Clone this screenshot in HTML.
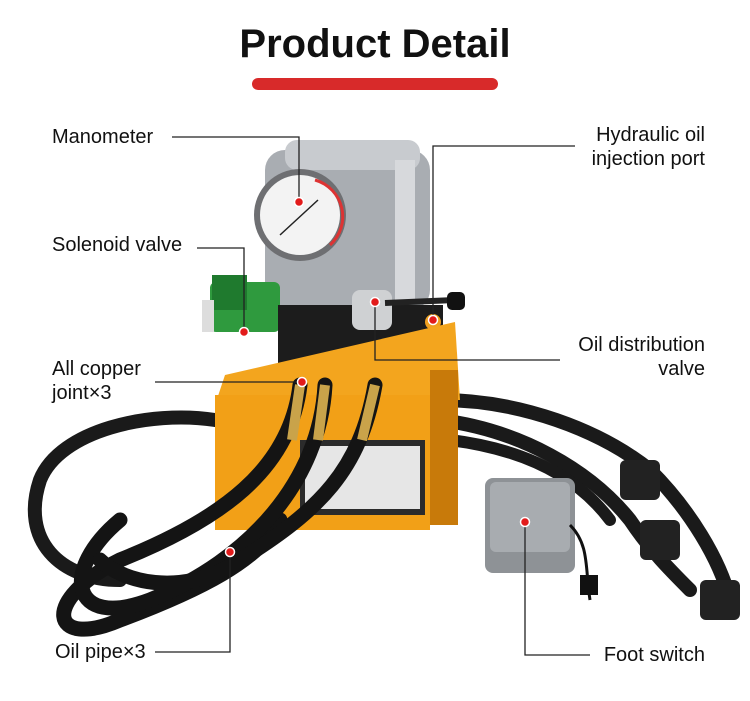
<!DOCTYPE html>
<html><head><style>
body{margin:0;background:#fff;width:750px;height:701px;overflow:hidden;position:relative;font-family:"Liberation Sans",sans-serif}
.t{position:absolute;font-size:20px;color:#111;line-height:24px}
.r{text-align:right}
</style></head><body>
<div style="position:absolute;left:0;width:750px;top:22px;text-align:center;font-size:40px;font-weight:bold;color:#111">Product Detail</div>
<div style="position:absolute;left:252px;top:78px;width:246px;height:12px;border-radius:6px;background:#d82a2a"></div>

<svg width="750" height="701" style="position:absolute;left:0;top:0">
<!-- hoses back right -->
<g fill="none" stroke="#1a1a1a" stroke-linecap="round">
<path d="M440 400 C520 400 600 430 650 470 C690 510 720 560 730 600" stroke-width="14"/>
<path d="M440 420 C520 430 590 470 630 520 C650 550 670 570 690 590" stroke-width="14"/>
<path d="M450 440 C530 450 580 480 610 520" stroke-width="12"/>
<path d="M215 420 C150 410 60 430 40 480 C20 540 60 580 120 580" stroke-width="14"/>
</g>
<!-- motor -->
<rect x="265" y="150" width="165" height="160" rx="20" fill="#a9adb2"/>
<rect x="285" y="140" width="135" height="30" rx="12" fill="#c8cbcf"/>
<rect x="395" y="160" width="20" height="140" fill="#d7d9dc"/>
<!-- gauge -->
<circle cx="300" cy="215" r="46" fill="#6e6f72"/>
<circle cx="300" cy="215" r="40" fill="#f3f3f3"/>
<path d="M315 180 A38 38 0 0 1 330 245" fill="none" stroke="#d33" stroke-width="3"/>
<line x1="280" y1="235" x2="318" y2="200" stroke="#222" stroke-width="1.5"/>
<!-- green solenoid -->
<rect x="210" y="282" width="70" height="50" rx="6" fill="#2f9a3e"/>
<rect x="212" y="275" width="35" height="35" fill="#1f7a2e"/>
<rect x="202" y="300" width="12" height="32" fill="#ddd"/>
<!-- black valve block -->
<rect x="278" y="305" width="165" height="65" fill="#1c1c1c"/>
<rect x="352" y="290" width="40" height="40" rx="8" fill="#cfd1d3"/>
<line x1="385" y1="303" x2="455" y2="300" stroke="#222" stroke-width="6"/>
<rect x="447" y="292" width="18" height="18" rx="5" fill="#111"/>
<circle cx="433" cy="322" r="8" fill="#f0a020"/>
<!-- orange box -->
<polygon points="225,375 455,322 460,400 215,405" fill="#f3a51e"/>
<rect x="215" y="395" width="215" height="135" fill="#f2a017"/>
<rect x="430" y="370" width="28" height="155" fill="#c87a0a"/>
<rect x="300" y="440" width="125" height="75" fill="#2b2b2b"/>
<rect x="305" y="446" width="115" height="63" fill="#e6e6e6"/>
<!-- front hoses -->
<g fill="none" stroke="#141414" stroke-linecap="round" stroke-width="15">
<path d="M300 385 C290 470 220 520 120 560 C40 600 50 650 120 620 C200 590 260 560 280 520"/>
<path d="M325 385 C320 480 250 560 150 600 C70 630 60 570 120 520"/>
<path d="M375 385 C360 470 320 510 240 560 C180 600 120 580 100 560"/>
</g>
<g stroke="#c9a34a" stroke-width="10" fill="none">
<path d="M300 385 L292 440"/><path d="M325 385 L318 440"/><path d="M375 385 L362 440"/>
</g>
<!-- foot switch -->
<rect x="485" y="478" width="90" height="95" rx="8" fill="#8e9296"/>
<rect x="490" y="482" width="80" height="70" rx="6" fill="#a8acb0"/>
<path d="M570 525 C590 545 585 570 590 600" stroke="#111" stroke-width="3" fill="none"/>
<rect x="580" y="575" width="18" height="20" fill="#111"/>
<g fill="#222"><rect x="620" y="460" width="40" height="40" rx="6"/><rect x="640" y="520" width="40" height="40" rx="6"/><rect x="700" y="580" width="40" height="40" rx="6"/></g>

<!-- callout lines -->
<g stroke="#222" stroke-width="1.3" fill="none">
<path d="M172 137 H299 V202"/>
<path d="M197 248 H244 V332"/>
<path d="M155 382 H302"/>
<path d="M155 652 H230 V552"/>
<path d="M575 146 H433 V320"/>
<path d="M560 360 H375 V302"/>
<path d="M590 655 H525 V522"/>
</g>
<g fill="#e21b1b" stroke="#fff" stroke-width="1.5">
<circle cx="299" cy="202" r="4.5"/><circle cx="244" cy="332" r="4.5"/><circle cx="302" cy="382" r="4.5"/>
<circle cx="230" cy="552" r="4.5"/><circle cx="433" cy="320" r="4.5"/><circle cx="375" cy="302" r="4.5"/><circle cx="525" cy="522" r="4.5"/>
</g>
</svg>

<div class="t" style="left:52px;top:125px">Manometer</div>
<div class="t" style="left:52px;top:233px">Solenoid valve</div>
<div class="t" style="left:52px;top:357px">All copper<br>joint×3</div>
<div class="t" style="left:55px;top:640px">Oil pipe×3</div>
<div class="t r" style="right:45px;top:123px">Hydraulic oil<br>injection port</div>
<div class="t r" style="right:45px;top:333px">Oil distribution<br>valve</div>
<div class="t r" style="right:45px;top:643px">Foot switch</div>
</body></html>
